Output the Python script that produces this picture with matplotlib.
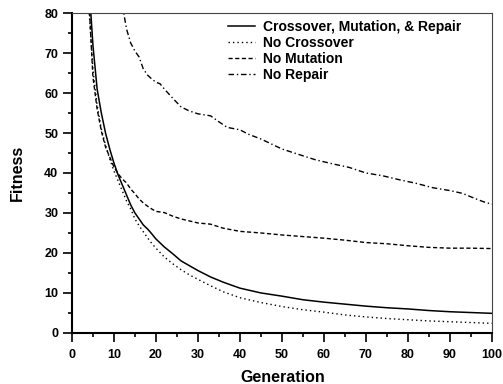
import matplotlib
matplotlib.use('Agg')
import matplotlib.pyplot as plt
from matplotlib.ticker import MultipleLocator

plt.rcParams['font.family'] = ['Liberation Sans', 'DejaVu Sans']
plt.rcParams['font.weight'] = 'bold'

# generations shared by the first three runs
gens = [4, 5, 6, 7, 8, 9, 10, 11, 12, 13, 14, 15, 16, 17, 18, 19, 20, 22, 24, 26,
        28, 30, 33, 36, 40, 45, 50, 55, 60, 65, 70, 75, 80, 85, 90, 95, 100]
full = [88, 72, 61, 55, 50, 46, 42.5, 39.5, 37, 34.5, 32, 30, 28.5, 27, 26, 24.8,
        23.5, 21.5, 19.8, 18, 16.8, 15.6, 14, 12.7, 11.2, 10, 9.2, 8.3, 7.7, 7.2,
        6.7, 6.3, 6.0, 5.6, 5.3, 5.1, 4.9]
no_cross = [82, 66, 57, 51, 47, 43.5, 40.5, 38, 35.5, 33, 31, 28.5, 26.8, 25.3, 23.8,
            22.4, 21.2, 19, 17.3, 15.8, 14.5, 13.4, 11.8, 10.3, 8.8, 7.6, 6.6, 5.8,
            5.2, 4.5, 4.0, 3.6, 3.3, 3.0, 2.8, 2.6, 2.4]
no_mut = [84, 64, 56, 50.5, 46.5, 44, 41.5, 39.8, 38.5, 37.5, 36, 34.8, 33.5, 32.5,
          31.7, 31, 30.4, 30.1, 29.2, 28.5, 28, 27.5, 27.2, 26.2, 25.4, 25, 24.5,
          24.1, 23.7, 23.2, 22.6, 22.3, 21.8, 21.4, 21.2, 21.2, 21.1]

gens_rep = [12, 13, 14, 15, 16, 17, 18, 19, 20, 21, 22, 24, 26, 28, 30, 33, 35, 37,
            40, 42, 45, 48, 50, 55, 58, 62, 66, 70, 74, 78, 82, 86, 90, 93, 96, 98, 100]
no_rep = [82, 76, 72.5, 70.5, 69, 66, 64.5, 63.5, 62.7, 62.3, 61, 58.7, 56.5, 55.5,
          54.8, 54.3, 52.8, 51.4, 50.8, 49.7, 48.5, 47, 46, 44.3, 43.3, 42.3, 41.4,
          40, 39.3, 38.3, 37.4, 36.3, 35.6, 34.9, 33.6, 32.8, 32.2]

fig = plt.figure(figsize=(5.03, 3.84), dpi=100)
ax = fig.add_axes([0.143, 0.133, 0.835, 0.833])

ax.plot(gens, full, color='black', lw=1.1, ls='-', label='Crossover, Mutation, & Repair')
ax.plot(gens, no_cross, color='black', lw=1.0, ls=(0, (1, 2.2)), label='No Crossover')
ax.plot(gens, no_mut, color='black', lw=1.0, ls=(0, (3, 1.8)), label='No Mutation')
ax.plot(gens_rep, no_rep, color='black', lw=1.0, ls=(0, (4, 2, 1, 2)), label='No Repair')

ax.set_xlim(0, 100)
ax.set_ylim(0, 80)
ax.xaxis.set_major_locator(MultipleLocator(10))
ax.xaxis.set_minor_locator(MultipleLocator(5))
ax.yaxis.set_major_locator(MultipleLocator(10))
ax.yaxis.set_minor_locator(MultipleLocator(5))
ax.tick_params(which='major', direction='out', length=6.3, width=1.2, labelsize=9)
ax.tick_params(which='minor', direction='out', length=2.8, width=1.2)
ax.tick_params(axis='x', which='major', pad=5)
ax.tick_params(axis='y', which='major', pad=3.5)
ax.tick_params(axis='x', which='both', top=False)
ax.tick_params(axis='y', which='both', right=False)

for s in ['left', 'bottom']:
    ax.spines[s].set_linewidth(1.5)
for s in ['top', 'right']:
    ax.spines[s].set_linewidth(0.8)
    ax.spines[s].set_color('#444444')

fig.text(282.5 / 503, 1 - 381.5 / 384, 'Generation', fontsize=11.5, fontweight='bold',
         ha='center', va='baseline')
fig.text(17 / 503, 1 - 173 / 384, 'Fitness', fontsize=11.5, fontweight='bold',
         ha='center', va='center', rotation=90)

leg = ax.legend(loc='upper left', frameon=False, fontsize=10, handlelength=1.95,
                handletextpad=0.58, labelspacing=0.15, borderpad=0, borderaxespad=0,
                bbox_to_anchor=(0.371, 0.978))
for t in leg.get_texts():
    t.set_fontweight('bold')

fig.savefig('out.png', dpi=100)
